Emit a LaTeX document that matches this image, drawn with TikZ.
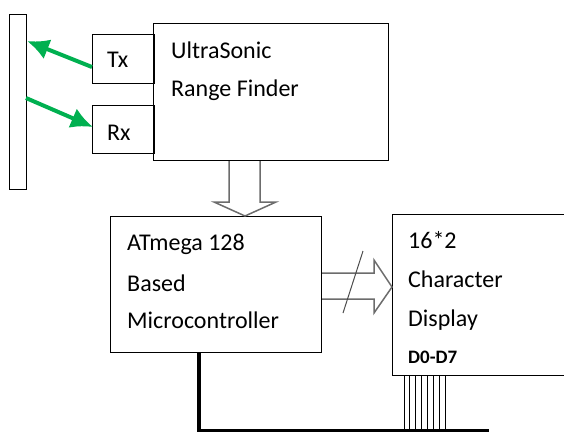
\documentclass[tikz,border=0pt]{standalone}
\usepackage{fontspec}
\setmainfont{Carlito}
\usepackage{tikz}

\tikzset{
  blockbox/.style={draw=black,line width=1.2pt,inner sep=0pt,anchor=north west},
  lbl/.style={anchor=west,inner sep=0pt,font=\fontsize{24}{28}\selectfont},
  sigarrow/.style={draw={rgb,255:red,0;green,176;blue,80},line width=4pt,-{Latex[length=22pt,width=21pt]}},
  hollow/.style={draw=gray!85!black,line width=1.5pt,fill=white,line join=miter}
}
\usetikzlibrary{arrows.meta}

\begin{document}
\begin{tikzpicture}[x=1pt,y=-1pt]
		\useasboundingbox (0,0) rectangle (564,432);

		% >>> wall and range finder
		\node[blockbox,minimum width=17pt,minimum height=175pt] (wall) at (9,14) {};
		\node[blockbox,minimum width=62pt,minimum height=49pt] (tx) at (92,34) {};
		\node[blockbox,minimum width=62pt,minimum height=48pt] (rx) at (92,105) {};
		\node[blockbox,minimum width=235pt,minimum height=137pt] (finder) at (153,23) {};
		\node[lbl] (txlbl) at (107,60) {Tx};
		\node[lbl] (rxlbl) at (107,133) {Rx};
		\node[lbl] (finderl1) at (171,50) {UltraSonic};
		\node[lbl] (finderl2) at (171,90) {Range Finder};
		% <<< wall and range finder

		% >>> ultrasonic signals
		\coordinate (txout) at (92,67);
		\coordinate (wallin) at (27,41);
		\coordinate (wallout) at (26,98);
		\coordinate (rxin) at (93,127);
		\draw[sigarrow] (txout) -- (wallin);
		\draw[sigarrow] (wallout) -- (rxin);
		% <<< ultrasonic signals

		% >>> microcontroller and display
		\node[blockbox,minimum width=211pt,minimum height=136pt] (mcu) at (110,216) {};
		\node[lbl] (mcul1) at (127,244) {ATmega 128};
		\node[lbl] (mcul2) at (127,283) {Based};
		\node[lbl] (mcul3) at (127,320) {Microcontroller};
		\node[blockbox,minimum width=180pt,minimum height=161pt] (lcd) at (392,214) {};
		\node[lbl] (lcdl1) at (408,240) {16*2};
		\node[lbl] (lcdl2) at (408,279) {Character};
		\node[lbl] (lcdl3) at (408,320) {Display};
		\node[lbl,font=\fontsize{19}{22}\selectfont\bfseries] (lcdl4) at (408,357) {D0-D7};
		% <<< microcontroller and display

		% >>> hollow arrows
		\draw[hollow] (finder.south west -| 229,0) -- (229,202) -- (214,202) -- (mcu.north west -| 245,0)
			-- (276,202) -- (260,202) -- (finder.south west -| 260,0);
		\draw[hollow] (mcu.north east |- 0,273) -- (374,273) -- (374,260) -- (lcd.north west |- 0,287)
			-- (374,313) -- (374,299) -- (mcu.north east |- 0,299);
		\draw[gray!60!black,line width=1pt] (343,313) -- (363,251);
		% <<< hollow arrows

		% >>> data bus
		\foreach \i in {0,...,7}
			\draw[black,line width=0.8pt] (404+\i*5.85,375) -- (404+\i*5.85,430);
		\coordinate (busend) at (489,430);
		\draw[black,line width=4.5pt] (mcu.south west -| 199,0) -- (199,430);
		\draw[black,line width=3pt] (197,430) -- (busend);
		% <<< data bus
	\end{tikzpicture}
\end{document}
